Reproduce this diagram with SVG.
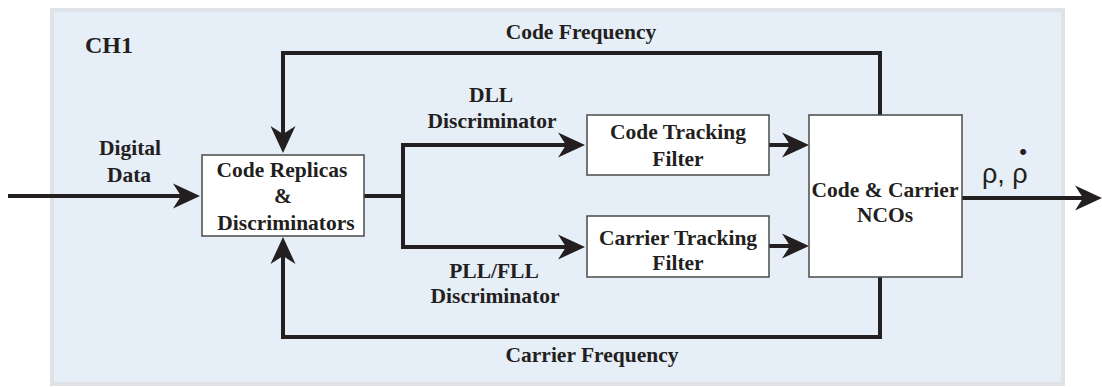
<svg xmlns="http://www.w3.org/2000/svg" width="1102" height="387" viewBox="0 0 1102 387">
  <style>
    .panel { fill: #e6eef7; stroke: #dfe3e7; stroke-width: 4; }
    .box { fill: #ffffff; stroke: #4a4a4a; stroke-width: 1.5; }
    .wire { fill: none; stroke: #231f20; stroke-width: 4; stroke-linejoin: miter; stroke-linecap: butt; }
    .lbl { font-family: "Liberation Serif", "Times New Roman", serif; font-weight: bold; font-size: 21.5px; fill: #231f20; text-anchor: middle; }
    .title { font-family: "Liberation Serif", "Times New Roman", serif; font-weight: bold; font-size: 24px; fill: #231f20; }
    .sym { font-family: "Liberation Sans", Arial, sans-serif; font-size: 27px; fill: #231f20; }
  </style>
  <defs>
    <marker id="arrow" markerUnits="userSpaceOnUse" viewBox="-28 -13 29 26" markerWidth="29" markerHeight="26" refX="-19" refY="0" orient="auto">
      <path d="M0,0 L-27,-12.5 L-19,0 L-27,12.5 Z" fill="#231f20"/>
    </marker>
  </defs>

  <!-- channel panel -->
  <rect class="panel" x="52" y="10" width="1011" height="374"/>
  <text class="title" x="85" y="53">CH1</text>

  <!-- connectors -->
  <g id="connectors">
    <path class="wire" d="M8,196 H181" marker-end="url(#arrow)"/>
    <path class="wire" d="M880,115 V53 H283 V134" marker-end="url(#arrow)"/>
    <path class="wire" d="M880,277 V337 H283 V256" marker-end="url(#arrow)"/>
    <path class="wire" d="M364,196 H403"/>
    <path class="wire" d="M403,194 V145 H566" marker-end="url(#arrow)"/>
    <path class="wire" d="M403,194 V247 H566" marker-end="url(#arrow)"/>
    <path class="wire" d="M769,145 H790" marker-end="url(#arrow)"/>
    <path class="wire" d="M769,246 H790" marker-end="url(#arrow)"/>
    <path class="wire" d="M962,198 H1083" marker-end="url(#arrow)"/>
  </g>

  <!-- connector labels -->
  <g id="labels">
    <text class="lbl" x="130" y="155">Digital</text>
    <text class="lbl" x="129" y="182">Data</text>
    <text class="lbl" x="581" y="39">Code Frequency</text>
    <text class="lbl" x="592" y="362">Carrier Frequency</text>
    <text class="lbl" x="491" y="102">DLL</text>
    <text class="lbl" x="492" y="128">Discriminator</text>
    <text class="lbl" x="494" y="278">PLL/FLL</text>
    <text class="lbl" x="495" y="303">Discriminator</text>
    <!-- range and range-rate output: rho, rho-dot -->
    <text class="sym" x="982" y="183">ρ, ρ<tspan dx="-8.5" dy="-24" font-size="22">•</tspan></text>
  </g>

  <g id="code-replicas">
    <rect class="box" x="202" y="155" width="162" height="81"/>
    <text class="lbl" x="282" y="177">Code Replicas</text>
    <text class="lbl" x="283" y="203">&amp;</text>
    <text class="lbl" x="286" y="230">Discriminators</text>
  </g>

  <g id="code-filter">
    <rect class="box" x="587" y="115" width="182" height="60"/>
    <text class="lbl" x="678" y="139">Code Tracking</text>
    <text class="lbl" x="678" y="166">Filter</text>
  </g>

  <g id="carrier-filter">
    <rect class="box" x="587" y="216" width="182" height="61"/>
    <text class="lbl" x="678" y="245">Carrier Tracking</text>
    <text class="lbl" x="678" y="270">Filter</text>
  </g>

  <g id="nco">
    <rect class="box" x="809" y="115" width="153" height="162"/>
    <text class="lbl" x="885" y="197">Code &amp; Carrier</text>
    <text class="lbl" x="885" y="222">NCOs</text>
  </g>
</svg>
